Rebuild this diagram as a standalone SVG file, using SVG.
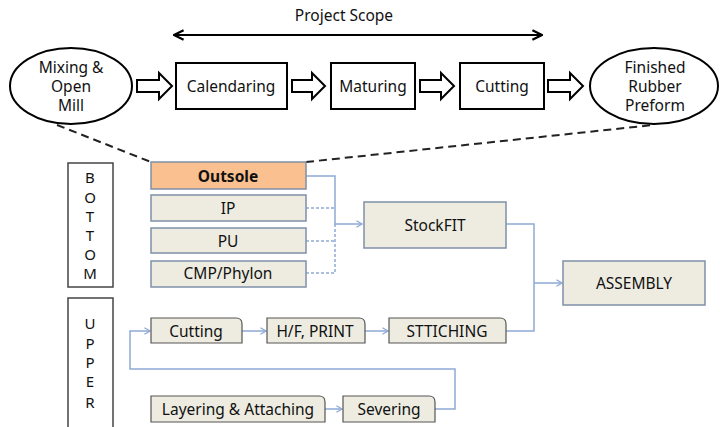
<svg xmlns="http://www.w3.org/2000/svg" width="720" height="427" viewBox="0 0 720 427">
<style>
text{font-family:"Noto Sans","Liberation Sans",sans-serif;fill:#111;text-anchor:middle;dominant-baseline:central}
.t{font-size:15.5px}
.s{font-size:15px}
.blk{fill:#fff;stroke:#000;stroke-width:2}
.hol{fill:#fff;stroke:#000;stroke-width:2;stroke-linejoin:miter}
.box{fill:#EEECE1;stroke:#7F90A8;stroke-width:1.5}
.tab{fill:#EEECE1;stroke:#555;stroke-width:1.2}
.lbl{fill:#fff;stroke:#444;stroke-width:1.5}
.c{fill:none;stroke:#8EAAD6;stroke-width:1.5}
.cd{fill:none;stroke:#8EAAD6;stroke-width:1.5;stroke-dasharray:3 2}
.dash{fill:none;stroke:#222;stroke-width:2;stroke-dasharray:8 5}
</style>
<defs>
<marker id="ah" viewBox="0 0 10 10" refX="9" refY="5" markerWidth="8" markerHeight="8" markerUnits="userSpaceOnUse" orient="auto"><path d="M2,1 L9,5 L2,9" fill="none" stroke="#8EAAD6" stroke-width="1.6"/></marker>
<marker id="bk" viewBox="0 0 10 10" refX="9" refY="5" markerWidth="12" markerHeight="12" markerUnits="userSpaceOnUse" orient="auto-start-reverse"><path d="M1,1 L9,5 L1,9" fill="none" stroke="#000" stroke-width="1.8"/></marker>
</defs>

<g id="scope">
<text x="344" y="15" class="t">Project Scope</text>
<line x1="174" y1="35" x2="542" y2="35" stroke="#000" stroke-width="2" marker-start="url(#bk)" marker-end="url(#bk)"/>
</g>

<g id="connectors">
<path class="hol" d="M137,80 H159 V73 L172,86 L159,99 V92 H137 Z"/>
<path class="hol" d="M292,80 H312 V73 L325,86 L312,99 V92 H292 Z"/>
<path class="hol" d="M420,80 H441 V73 L454,86 L441,99 V92 H420 Z"/>
<path class="hol" d="M548,80 H570 V73 L583,86 L570,99 V92 H548 Z"/>
<path class="dash" d="M57,125 L151,162"/>
<path class="dash" d="M306,162 L653,125"/>
<path class="c" d="M306,176 H335 V224 H362" marker-end="url(#ah)"/>
<path class="cd" d="M306,208 H335"/>
<path class="cd" d="M306,241 H335"/>
<path class="cd" d="M306,273 H335 V224"/>
<path class="c" d="M506,224 H534 V331 H506"/>
<path class="c" d="M534,283 H562" marker-end="url(#ah)"/>
<path class="c" d="M242,331 H266" marker-end="url(#ah)"/>
<path class="c" d="M365,331 H388" marker-end="url(#ah)"/>
<path class="c" d="M325,409 H342" marker-end="url(#ah)"/>
<path class="c" d="M435,409 H455 V369 H130 V331 H150" marker-end="url(#ah)"/>
</g>

<g id="mixing">
<ellipse class="blk" cx="71" cy="86" rx="61" ry="38"/>
<text x="71" y="67" class="t">Mixing &amp;</text>
<text x="71" y="86" class="t">Open</text>
<text x="71" y="105" class="t">Mill</text>
</g>
<g id="calendaring">
<rect class="blk" x="176" y="63" width="111" height="46"/>
<text x="231" y="86" class="t">Calendaring</text>
</g>
<g id="maturing">
<rect class="blk" x="331" y="63" width="84" height="46"/>
<text x="373" y="86" class="t">Maturing</text>
</g>
<g id="cutting-top">
<rect class="blk" x="460" y="63" width="84" height="46"/>
<text x="502" y="86" class="t">Cutting</text>
</g>
<g id="finished">
<ellipse class="blk" cx="654" cy="86" rx="64" ry="38"/>
<text x="655" y="67" class="t">Finished</text>
<text x="655" y="86" class="t">Rubber</text>
<text x="655" y="105" class="t">Preform</text>
</g>

<g id="bottom-label">
<rect class="lbl" x="68" y="163" width="45" height="124"/>
<text x="90" y="177" class="s">B</text>
<text x="90" y="197" class="s">O</text>
<text x="90" y="216" class="s">T</text>
<text x="90" y="235" class="s">T</text>
<text x="90" y="254" class="s">O</text>
<text x="90" y="273" class="s">M</text>
</g>
<g id="upper-label">
<rect class="lbl" x="68" y="298" width="45" height="135"/>
<text x="90" y="323" class="s">U</text>
<text x="90" y="343" class="s">P</text>
<text x="90" y="362" class="s">P</text>
<text x="90" y="381" class="s">E</text>
<text x="90" y="402" class="s">R</text>
</g>

<g id="outsole">
<rect x="151" y="162" width="155" height="27" fill="#FAC08F" stroke="#7F90A8" stroke-width="1.5"/>
<text x="228" y="176" class="t" font-weight="bold">Outsole</text>
</g>
<g id="ip">
<rect class="box" x="151" y="195" width="155" height="26"/>
<text x="228" y="208" class="t">IP</text>
</g>
<g id="pu">
<rect class="box" x="151" y="228" width="155" height="25"/>
<text x="228" y="241" class="t">PU</text>
</g>
<g id="cmp">
<rect class="box" x="151" y="261" width="155" height="26"/>
<text x="228" y="273" class="t">CMP/Phylon</text>
</g>
<g id="stockfit">
<rect class="box" x="364" y="202" width="142" height="46"/>
<text x="435" y="225" class="t">StockFIT</text>
</g>
<g id="assembly">
<rect class="box" x="563" y="261" width="142" height="44"/>
<text x="634" y="283" class="t">ASSEMBLY</text>
</g>

<g id="cutting">
<path class="tab" d="M151,318 H236 Q242,318 242,324 V343 H151 Z"/>
<text x="196" y="331" class="t">Cutting</text>
</g>
<g id="hf-print">
<path class="tab" d="M267,318 H359 Q365,318 365,324 V343 H267 Z"/>
<text x="315" y="331" class="t">H/F, PRINT</text>
</g>
<g id="stitching">
<path class="tab" d="M389,318 H500 Q506,318 506,324 V343 H389 Z"/>
<text x="447" y="331" class="t">STTICHING</text>
</g>
<g id="layering">
<path class="tab" d="M151,396 H319 Q325,396 325,402 V422 H151 Z"/>
<text x="238" y="409" class="t">Layering &amp; Attaching</text>
</g>
<g id="severing">
<path class="tab" d="M343,396 H429 Q435,396 435,402 V422 H343 Z"/>
<text x="389" y="409" class="t">Severing</text>
</g>
</svg>
